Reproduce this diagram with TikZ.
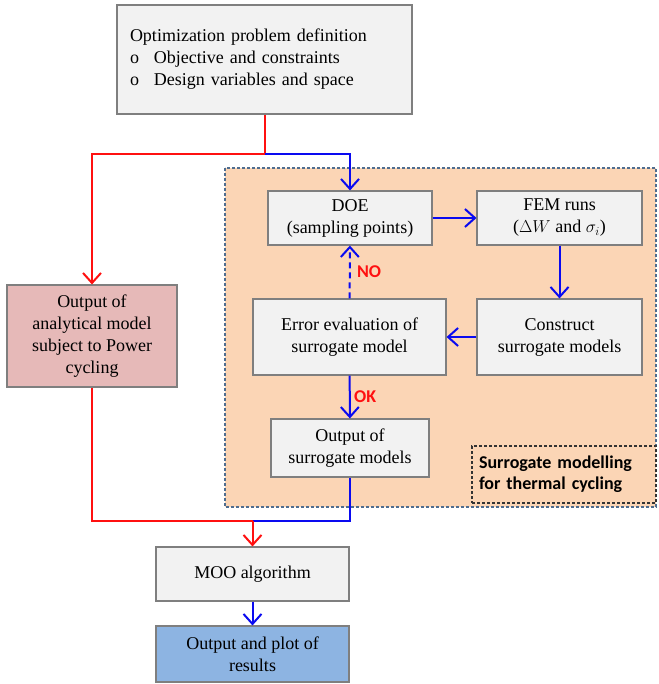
\documentclass[tikz,border=0pt]{standalone}
\usepackage{fontspec}
\setmainfont{Liberation Serif}
\newfontfamily\calib{Carlito}
\usetikzlibrary{arrows.meta,positioning,calc}
\definecolor{boxgray} {HTML}{F2F2F2}
\definecolor{edgegray}{HTML}{7F7F7F}
\definecolor{peach}   {HTML}{FBD5B5}
\definecolor{rose}    {HTML}{E6B9B8}
\definecolor{sky}     {HTML}{8DB4E2}
\definecolor{slate}   {HTML}{4F6D8F}
\definecolor{pblue}   {HTML}{0A0AF0}
\definecolor{pred}    {HTML}{FF1010}
\tikzset{
  >={Straight Barb[length=10pt,width=18pt,line width=2pt]},
  % --- nodes
  box/.style   = {draw=edgegray, fill=boxgray, line width=1.1pt, align=center,
                  inner sep=2pt, font=\fontsize{18}{22}\selectfont},
  pinkbox/.style = {box, fill=rose},
  bluebox/.style = {box, fill=sky},
  tag/.style   = {font=\calib\bfseries\fontsize{18}{20}\selectfont, text=pred},
  % --- edges
  eb/.style    = {->, line width=2pt, draw=pblue},
  er/.style    = {->, line width=2pt, draw=pred},
}
\begin{document}
\begin{tikzpicture}[x=1pt,y=-1pt]
  \useasboundingbox (0,0) rectangle (658,684);
  % surrogate region
  \draw[fill=peach, draw=slate, dash pattern=on 3pt off 2pt, line width=1.1pt]
        (225,168) rectangle (656,507);
  \node[draw=black!80, dash pattern=on 3pt off 2pt, line width=1.1pt, minimum width=184pt,
        minimum height=57pt, text width=170pt, align=left, inner xsep=7pt,
        font=\calib\bfseries\fontsize{18}{21}\selectfont] (lab) at (564,474.5)
        {Surrogate modelling\\for thermal cycling};
  % boxes
  \node[box, minimum width=295pt, minimum height=109pt, text width=269pt, inner xsep=13pt,
        align=left] (def) at (264.5,59.5)
        {Optimization problem definition\\
         \makebox[24pt][l]{o}Objective and constraints\\
         \makebox[24pt][l]{o}Design variables and space};
  \node[box, minimum width=164pt, minimum height=54pt] (doe) at (350,218)
        {DOE\\(sampling points)};
  \node[box, minimum width=165pt, minimum height=54pt] (fem) at (559.5,218)
        {FEM runs\\($\Delta W$ and $\sigma_i$)};
  \node[box, minimum width=193pt, minimum height=76pt] (err) at (349.5,337)
        {Error evaluation of\\surrogate model};
  \node[box, minimum width=165pt, minimum height=76pt] (con) at (559.5,337)
        {Construct\\surrogate models};
  \node[box, minimum width=158pt, minimum height=58pt] (outs) at (350,448)
        {Output of\\surrogate models};
  \node[pinkbox, minimum width=170pt, minimum height=102pt] (ana) at (92,336)
        {Output of\\analytical model\\subject to Power\\cycling};
  \node[box, minimum width=193pt, minimum height=54pt] (moo) at (252.5,574)
        {MOO algorithm};
  \node[bluebox, minimum width=193pt, minimum height=56pt] (res) at (252.5,654)
        {Output and plot of\\results};
  % junctions
  \coordinate (split) at ($(def.south)+(0,39)$);
  \coordinate (merge) at ($(moo.north)+(0,-25)$);
  % connectors
  \draw[er] (def.south) -- (split) -| (ana.north);
  \draw[eb] (split) -| (doe.north);
  \draw[eb] (doe) -- (fem);
  \draw[eb] (fem) -- (con);
  \draw[eb] (con) -- (err);
  \draw[eb, dash pattern=on 6pt off 4pt] (err) -- node[tag, right=3pt] {NO} (doe);
  \draw[eb] (err) -- node[tag, right=0pt] {OK} (outs);
  \draw[line width=2pt, draw=pblue] (outs.south) |- (merge);
  \draw[line width=2pt, draw=pred] (ana.south) |- (merge);
  \draw[er] (merge) -- (moo.north);
  \draw[eb] (moo) -- (res);
\end{tikzpicture}
\end{document}
